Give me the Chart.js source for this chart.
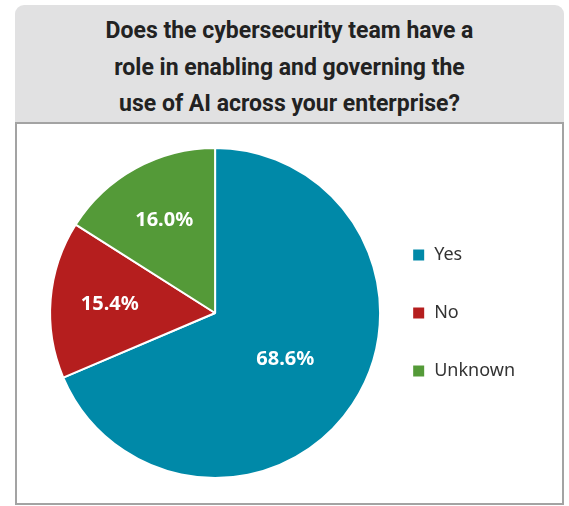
<!DOCTYPE html>
<html>
<head>
<meta charset="utf-8">
<script src="https://cdn.jsdelivr.net/npm/chart.js@4"></script>
<style>
  html, body { margin: 0; padding: 0; background: #fff; }
  #wrap { position: relative; width: 569px; height: 506px; }
  #head { position: absolute; left: 15px; top: 5px; width: 549px; height: 109px;
          padding-top: 8px; background: #e1e1e2; border-radius: 9px 9px 0 0;
          font: 700 23px/36.5px Roboto, sans-serif; color: #222; text-align: center; }
  #box { position: absolute; left: 15px; top: 122px; width: 545px; height: 379px;
         border: 2px solid #a3a3a3; background: #fff; }
  #myChart { position: absolute; left: 0; top: 0; }
</style>
</head>
<body>
<div id="wrap">
  <div id="head"></div>
  <div id="box"></div>
  <canvas id="myChart" width="569" height="506"></canvas>
</div>
<script>
/* data */
const titleLines = ['Does the cybersecurity team have a', 'role in enabling and governing the', 'use of AI across your enterprise?'];
const labels = ['Yes', 'No', 'Unknown'];
const values = [68.6, 15.4, 16.0];
const colors = ['#0089a8', '#b51e1e', '#549a38'];

// title goes in the grey header
const head = document.getElementById('head');
titleLines.forEach(function(t){
  const d = document.createElement('div');
  d.textContent = t;
  head.appendChild(d);
});

// slice labels, drawn at a fraction of the radius
const sliceLabels = {
  id: 'sliceLabels',
  afterDatasetsDraw(chart) {
    const ctx = chart.ctx;
    const meta = chart.getDatasetMeta(0);
    ctx.save();
    ctx.fillStyle = '#fff';
    ctx.font = 'bold 20px "Noto Sans"';
    ctx.textAlign = 'center';
    ctx.textBaseline = 'middle';
    meta.data.forEach((arc, i) => {
      const p = arc.getProps(['x', 'y', 'startAngle', 'endAngle', 'outerRadius']);
      const mid = (p.startAngle + p.endAngle) / 2;
      const f = values[i] > 50 ? 0.51 : 0.64;
      const x = p.x + Math.cos(mid) * p.outerRadius * f;
      const y = p.y + Math.sin(mid) * p.outerRadius * f;
      ctx.fillText(values[i].toFixed(1) + '%', x, y);
    });
    ctx.restore();
  }
};

const myChart = new Chart(document.getElementById('myChart'), {
  type: 'pie',
  plugins: [sliceLabels],
  data: {
    labels: labels,
    datasets: [{
      data: values,
      backgroundColor: colors,
      borderColor: '#fff',
      borderWidth: 2,
      radius: 165
    }]
  },
  options: {
    responsive: false,
    animation: false,
    events: [],
    layout: {
      padding: { top: 148, bottom: 28, left: 58, right: 44 }
    },
    plugins: {
      title: { display: false },
      legend: {
        position: 'right',
        labels: {
          boxWidth: 13,
          boxHeight: 13,
          padding: 40,
          color: '#333',
          font: { family: '"Noto Sans"', size: 18 }
        }
      },
      tooltip: { enabled: false }
    }
  }
});
</script>
</body>
</html>
